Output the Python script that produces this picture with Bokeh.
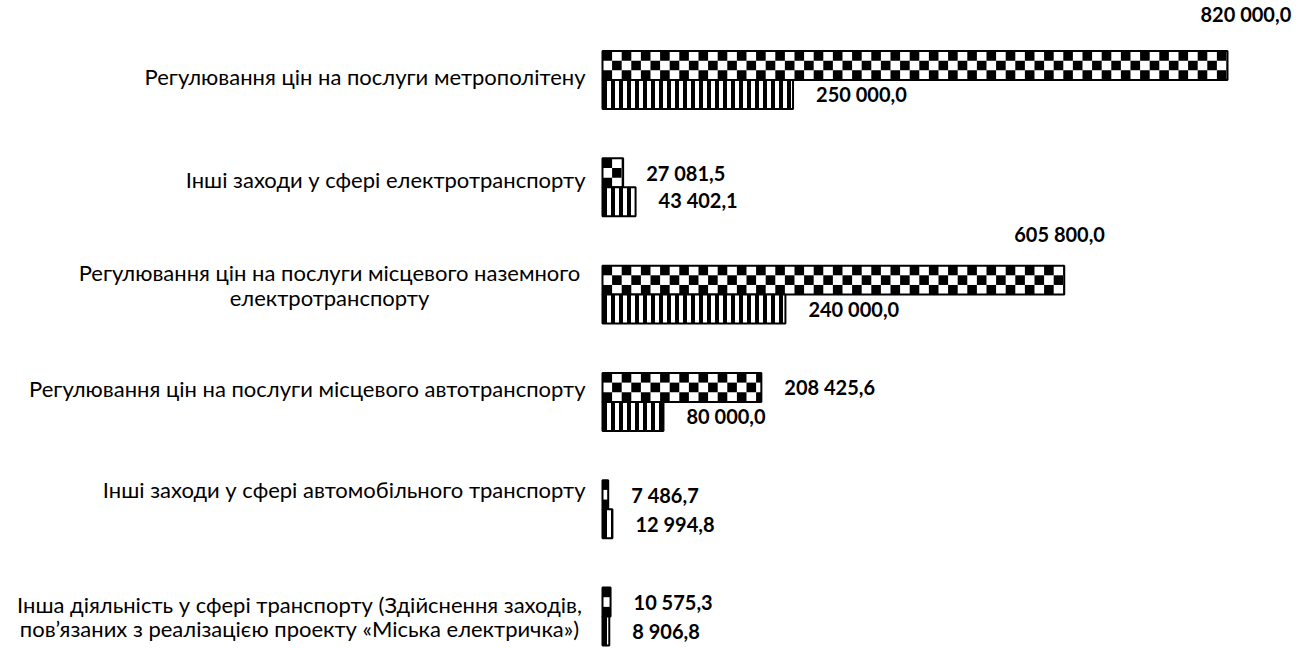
import math
from bokeh.plotting import figure
from bokeh.models import ColumnDataSource, Range1d
from bokeh.transform import dodge
from bokeh.core.properties import value
from bokeh.embed import file_html
from bokeh.resources import INLINE

# ---- data ----
categories = [
    "Регулювання цін на послуги метрополітену",
    "Інші заходи у сфері електротранспорту",
    "Регулювання цін на послуги місцевого наземного\nелектротранспорту",
    "Регулювання цін на послуги місцевого автотранспорту",
    "Інші заходи у сфері автомобільного транспорту",
    "Інша діяльність у сфері транспорту (Здійснення заходів,\nпов’язаних з реалізацією проекту «Міська електричка»)",
]
series_checker = [820000.0, 27081.5, 605800.0, 208425.6, 7486.7, 10575.3]
series_stripes = [250000.0, 43402.1, 240000.0, 80000.0, 12994.8, 8906.8]

# ---- label placement (styles) ----
checker_dx = [-27, 23, -50, 23, 23, 23]
checker_dy = [-52, 0, -46, 0, 0, 0]
stripes_dx = [23, 23, 23, 23, 23, 23]
stripes_dy = [0, -2, 0, 0, 0, 0]
cat_dy = [-4, -8, -10, -13, -20, 0]


def fmt(v):
    return f"{v:,.1f}".replace(",", " ").replace(".", ",")


idx = list(range(len(categories)))
src = ColumnDataSource(dict(
    idx=idx,
    a=series_checker, b=series_stripes,
    a_lbl=[fmt(v) for v in series_checker],
    b_lbl=[fmt(v) for v in series_stripes],
    a_dx=checker_dx, a_dy=checker_dy,
    b_dx=stripes_dx, b_dy=stripes_dy,
))

single = [i for i, c in enumerate(categories) if "\n" not in c]
multi = [i for i, c in enumerate(categories) if "\n" in c]
multi_dx = {2: -273, 5: -303}
cat_single = ColumnDataSource(dict(idx=single, text=[categories[i] for i in single],
                                   dy=[cat_dy[i] for i in single]))
cat_multi = ColumnDataSource(dict(idx=multi, text=[categories[i] for i in multi],
                                  dx=[multi_dx[i] for i in multi],
                                  dy=[cat_dy[i] for i in multi]))

W, H = 1302, 648
X0, X1 = -789800, 918400
p = figure(width=W, height=H, output_backend="svg", toolbar_location=None,
           x_range=Range1d(X0, X1), y_range=Range1d(5.298, -0.741),
           min_border=0, background_fill_color="white", outline_line_color=None)
p.axis.visible = False
p.grid.visible = False

BH = 0.27
OFF = 0.135

# checkerboard cells derived from the checker series values
cell_w = 9.6 * (X1 - X0) / W   # ~9.6 px wide cells, in data units
rows = 3
cl, cr, cb, ct = [], [], [], []
for i, v in enumerate(series_checker):
    top = i - OFF - BH / 2
    rh = BH / rows
    ncols = int(math.ceil(v / cell_w))
    for r in range(rows):
        for c in range(ncols):
            if (r + c) % 2 == 0:
                cl.append(c * cell_w)
                cr.append(min((c + 1) * cell_w, v))
                ct.append(top + r * rh)
                cb.append(top + (r + 1) * rh)
cells = ColumnDataSource(dict(left=cl, right=cr, top=ct, bottom=cb))

p.hbar(y=dodge("idx", -OFF), left=0, right="a", height=BH, source=src,
       fill_color="white", line_color=None)
p.quad(left="left", right="right", top="top", bottom="bottom", source=cells,
       fill_color="black", line_color=None)
p.hbar(y=dodge("idx", -OFF), left=0, right="a", height=BH, source=src,
       fill_color=None, line_color="black", line_width=2)
p.hbar(y=dodge("idx", OFF), left=0, right="b", height=BH, source=src,
       fill_color="white", line_color="black", line_width=2,
       hatch_pattern="vertical_line", hatch_color="black",
       hatch_scale=8, hatch_weight=4)

font = value("Lato")
p.text(x="a", y=dodge("idx", -OFF), text="a_lbl", x_offset="a_dx", y_offset="a_dy",
       source=src, text_font=font, text_font_style="bold", text_font_size="20px",
       text_baseline="middle", text_align="left", text_color="black")
p.text(x="b", y=dodge("idx", OFF), text="b_lbl", x_offset="b_dx", y_offset="b_dy",
       source=src, text_font=font, text_font_style="bold", text_font_size="20px",
       text_baseline="middle", text_align="left", text_color="black")

p.text(x=0, y="idx", text="text", source=cat_single, x_offset=-17, y_offset="dy",
       text_font=font, text_font_size="22px", text_baseline="middle",
       text_align="right", text_color="black")
p.text(x=0, y="idx", text="text", source=cat_multi, x_offset="dx", y_offset="dy",
       text_font=font, text_font_size="22px", text_baseline="middle",
       text_align="center", text_color="black", text_line_height=0.92)

open("out.html", "w").write(file_html(p, INLINE))
